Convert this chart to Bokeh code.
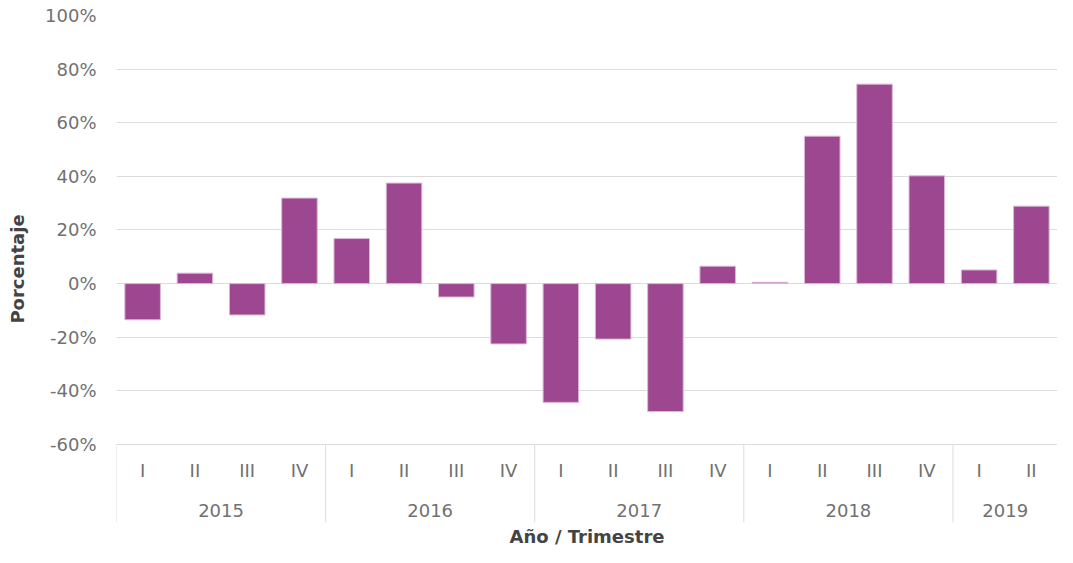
from bokeh.plotting import figure
from bokeh.models import Range1d, FixedTicker, PrintfTickFormatter, ColumnDataSource, Title
from bokeh.core.properties import value
from bokeh.embed import file_html
from bokeh.resources import INLINE

# ---- data ----
years = ["2015", "2016", "2017", "2018", "2019"]
quarters_per_year = [4, 4, 4, 4, 2]
quarter_names = ["I", "II", "III", "IV"]
values = [-13.5, 3.9, -11.7, 31.9,
          16.8, 37.5, -5.0, -22.5,
          -44.3, -20.7, -47.7, 6.5,
          0.5, 55.0, 74.4, 40.2,
          5.1, 28.9]
y_ticks = [-60, -40, -20, 0, 20, 40, 60, 80, 100]

# ---- derived positions ----
xs, qlabels = [], []
i = 0
group_edges = []
year_centers = []
for y, n in zip(years, quarters_per_year):
    group_edges.append(i)
    year_centers.append(i + n / 2)
    for q in range(n):
        xs.append(i + 0.5)
        qlabels.append(quarter_names[q])
        i += 1
n_total = i

FONT = "DejaVu Sans"
TICK_COLOR = "#717171"
TITLE_COLOR = "#444444"
GRID = "#dcdcdc"
Q_Y = -69.7
YEAR_Y = -84.6
Y_MIN = -89.1

p = figure(width=1057, height=547, output_backend="svg", toolbar_location=None,
           x_range=Range1d(0, n_total), y_range=Range1d(Y_MIN, 100),
           min_border_left=116, min_border_right=0, min_border_top=15,
           min_border_bottom=25)
p.outline_line_color = None
p.background_fill_color = "white"

bars = ColumnDataSource(dict(x=xs, top=values))
p.vbar(x="x", top="top", bottom=0, width=0.68, source=bars,
       fill_color="#9e4791", line_color="#dcb8d6", line_width=1)

# axes
p.xaxis.visible = False
p.xgrid.visible = False
yax = p.yaxis[0]
yax.ticker = FixedTicker(ticks=y_ticks)
yax.formatter = PrintfTickFormatter(format="%d%%")
yax.axis_line_color = None
yax.major_tick_line_color = None
yax.minor_tick_line_color = None
yax.major_tick_out = 0
yax.major_tick_in = 0
yax.major_label_standoff = 20
yax.major_label_text_font = FONT
yax.major_label_text_font_size = "18px"
yax.major_label_text_color = TICK_COLOR
yax.axis_label = "Porcentaje"
yax.axis_label_text_font = FONT
yax.axis_label_text_font_size = "18px"
yax.axis_label_text_font_style = "bold"
yax.axis_label_text_color = TITLE_COLOR
yax.axis_label_standoff = 14
p.ygrid.grid_line_color = GRID
p.ygrid.grid_line_width = 1

# category label box separators
sep = ColumnDataSource(dict(x0=group_edges, y0=[-60] * len(group_edges),
                            x1=group_edges, y1=[Y_MIN] * len(group_edges)))
p.segment(x0="x0", y0="y0", x1="x1", y1="y1", source=sep,
          line_color=GRID, line_width=1)

qsrc = ColumnDataSource(dict(x=xs, y=[Q_Y] * len(xs), t=qlabels))
p.text(x="x", y="y", text="t", source=qsrc, text_align="center",
       text_baseline="middle", text_font=value(FONT), text_font_size="18px",
       text_color=TICK_COLOR)
ysrc = ColumnDataSource(dict(x=year_centers, y=[YEAR_Y] * len(years), t=years))
p.text(x="x", y="y", text="t", source=ysrc, text_align="center",
       text_baseline="middle", text_font=value(FONT), text_font_size="18px",
       text_color=TICK_COLOR)

p.add_layout(Title(text="Año / Trimestre", align="center", text_font=FONT,
                   text_font_size="18px", text_font_style="bold",
                   text_color=TITLE_COLOR, standoff=2), "below")

open("out.html", "w").write(file_html(p, INLINE))
